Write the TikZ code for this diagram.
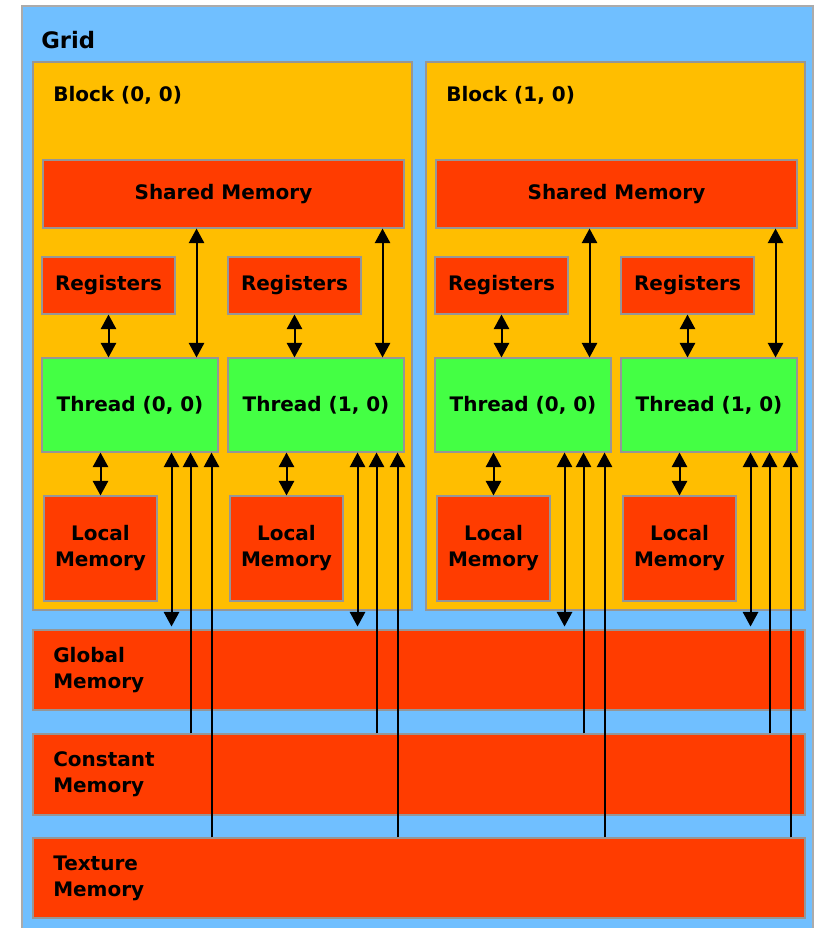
\documentclass[tikz,border=0pt]{standalone}
\usepackage{fontspec}
\setmainfont{DejaVu Sans}
\usetikzlibrary{arrows.meta,calc}
\definecolor{gridblue}{RGB}{112,191,255}
\definecolor{blockyel}{RGB}{255,190,0}
\definecolor{memred}{RGB}{255,60,0}
\definecolor{thrgreen}{RGB}{68,255,68}
\definecolor{edgegray}{RGB}{150,150,150}
\tikzset{
  spanrect/.style n args={4}{minimum width={((#3)-(#1))*0.75pt}, minimum height={((#4)-(#2))*0.75pt}, at={({((#1)+(#3))/2},{((#2)+(#4))/2})}},
  gridbox/.style={fill=gridblue, draw=edgegray!80, line width=1.3pt, inner sep=0pt},
  blkbox/.style={fill=blockyel, draw=edgegray, line width=0.8pt, inner sep=0pt},
  membox/.style={fill=memred, draw=edgegray, line width=0.8pt, inner sep=0pt, font=\bfseries\fontsize{15}{19.5}\selectfont, align=center},
  thrbox/.style={fill=thrgreen, draw=edgegray, line width=0.8pt, inner sep=0pt, font=\bfseries\fontsize{15}{19.5}\selectfont},
  lbl/.style={font=\bfseries\fontsize{15}{19.5}\selectfont, inner sep=0pt, anchor=west, align=left},
  arr/.style={line width=1.5pt, -{Triangle[width=11.5pt,length=11pt]}},
  dbl/.style={line width=1.5pt, {Triangle[width=11.5pt,length=11pt]}-{Triangle[width=11.5pt,length=11pt]}}
}
\begin{document}
\begin{tikzpicture}[x=0.75pt,y=-0.75pt]
\useasboundingbox[fill=white] (0,0) rectangle (820,928);
\node[gridbox, spanrect={22}{6}{813}{940}] (grid) {};
\node[lbl, font=\bfseries\fontsize{17}{20}\selectfont] (gridlbl) at (41,40) {Grid};
% memories
\node[membox, spanrect={33}{630}{805}{710}] (glob) {};
\node[lbl] (globlbl) at (53,670) {Global\\Memory};
\node[membox, spanrect={33}{734}{805}{815}] (con) {};
\node[lbl] (conlbl) at (53,774) {Constant\\Memory};
\node[membox, spanrect={33}{838}{805}{918}] (tex) {};
\node[lbl] (texlbl) at (53,878) {Texture\\Memory};
\foreach \b in {0,1} {
  \pgfmathsetmacro{\bx}{393*\b}
  \node[blkbox, spanrect={33+\bx}{62}{412+\bx}{610}] (blk\b) {};
  \node[lbl] (blklbl\b) at (53+\bx,95) {Block (\b, 0)};
  \node[membox, spanrect={43+\bx}{160}{404+\bx}{228}] (sh\b) {Shared Memory};
  \foreach \i in {0,1} {
    \pgfmathsetmacro{\tx}{42+393*\b+186*\i}
    \node[membox, spanrect={\tx}{257}{\tx+133}{314}] (r\b\i) {Registers};
    \node[thrbox, spanrect={\tx}{358}{\tx+176}{452}] (t\b\i) {Thread (\i, 0)};
    \node[membox, spanrect={\tx+2}{496}{\tx+115}{601}] (l\b\i) {Local\\Memory};
    \coordinate (sa\b\i) at ($(t\b\i.north east)+(-22,0)$);
    \coordinate (ga\b\i) at ($(t\b\i.south east)+(-47,0)$);
    \coordinate (ca\b\i) at ($(t\b\i.south east)+(-28,0)$);
    \coordinate (xa\b\i) at ($(t\b\i.south east)+(-7,0)$);
  }
}
% connectors
\foreach \b in {0,1} {
  \foreach \i in {0,1} {
    \draw[dbl] (r\b\i.south) -- (r\b\i.south |- t\b\i.north);
    \draw[dbl] (l\b\i.north |- t\b\i.south) -- (l\b\i.north);
    \draw[dbl] (sa\b\i) -- (sa\b\i |- sh\b.south);
    \draw[dbl, shorten >=2.2pt] (ga\b\i) -- (ga\b\i |- glob.north);
    \draw[arr] (ca\b\i |- con.north) -- (ca\b\i);
    \draw[arr] (xa\b\i |- tex.north) -- (xa\b\i);
  }
}
\end{tikzpicture}
\end{document}
